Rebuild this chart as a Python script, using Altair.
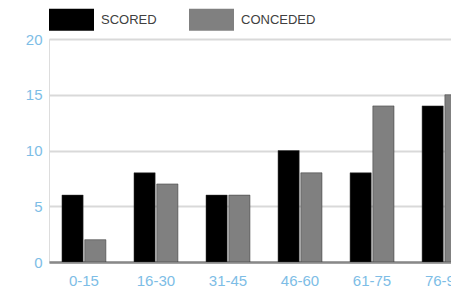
import altair as alt
import pandas as pd

categories = ["0-15", "16-30", "31-45", "46-60", "61-75", "76-90"]
scored = [6, 8, 6, 10, 8, 14]
conceded = [2, 7, 6, 8, 14, 15]
series = ["SCORED", "CONCEDED"]
colors = ["#000000", "#808080"]

rows = []
for c, s, k in zip(categories, scored, conceded):
    rows.append({"period": c, "series": "SCORED", "goals": s})
    rows.append({"period": c, "series": "CONCEDED", "goals": k})
df = pd.DataFrame(rows)

FONT = "Liberation Sans, sans-serif"
BLUE = "#7dbde6"

chart = alt.Chart(df).mark_bar(clip=True, stroke="#333333", strokeWidth=0.5).encode(
    x=alt.X("period:N", sort=categories, title=None,
            scale=alt.Scale(range=[0, 430], paddingInner=0.39, paddingOuter=0.18),
            axis=alt.Axis(labelAngle=0, labelColor=BLUE, labelFont=FONT, labelFontSize=15,
                          ticks=False, domainColor="#888888", domainWidth=2.5, labelPadding=11)),
    xOffset=alt.XOffset("series:N", sort=series, scale=alt.Scale(paddingInner=0.07)),
    y=alt.Y("goals:Q", title=None,
            scale=alt.Scale(domain=[0, 20]),
            axis=alt.Axis(values=[0, 5, 10, 15, 20], labelColor=BLUE, labelFont=FONT,
                          labelFontSize=15, ticks=False, domain=False, gridColor="#d9d9d9",
                          gridWidth=2, labelPadding=7)),
    color=alt.Color("series:N", sort=series,
                    scale=alt.Scale(domain=series, range=colors),
                    legend=alt.Legend(title=None, orient="none", legendX=0, legendY=-42,
                                      direction="horizontal",
                                      symbolType="M-1,-0.49H1V0.49H-1Z", symbolSize=2025,
                                      symbolStrokeWidth=0, symbolOpacity=1,
                                      labelFont=FONT, labelFontSize=13, labelColor="#404040",
                                      labelOffset=7, columnPadding=32)),
).properties(
    width=402, height=223,
    autosize=alt.AutoSizeParams(type="none"),
    padding={"left": 41, "top": 31, "right": 0, "bottom": 30},
).configure_view(stroke=None).configure(background="white")

chart.save("out.html", embed_options={"renderer": "svg", "actions": False})
